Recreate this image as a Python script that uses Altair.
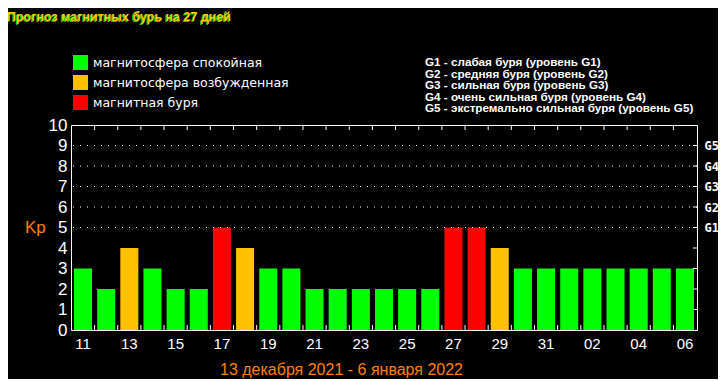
import altair as alt
import pandas as pd

# ---- data ----
days = ["11", "12", "13", "14", "15", "16", "17", "18", "19", "20", "21", "22", "23", "24",
        "25", "26", "27", "28", "29", "30", "31", "01", "02", "03", "04", "05", "06"]
kp = [3, 2, 4, 3, 2, 2, 5, 4, 3, 3, 2, 2, 2, 2, 2, 2, 5, 5, 4, 3, 3, 3, 3, 3, 3, 3, 3]
categories = ["магнитосфера спокойная", "магнитосфера возбужденная", "магнитная буря"]
cat_colors = ["#00ff00", "#ffc000", "#ff0000"]
grid_levels = [5, 6, 7, 8, 9]
right_ticks = [1, 2, 3, 4, 5, 6, 7, 8, 9]
g_lines = [
    "G1 - слабая буря (уровень G1)",
    "G2 - средняя буря (уровень G2)",
    "G3 - сильная буря (уровень G3)",
    "G4 - очень сильная буря (уровень G4)",
    "G5 - экстремально сильная буря (уровень G5)",
]
title_text = "Прогноз магнитных бурь на 27 дней"
subtitle_text = "13 декабря 2021 - 6 января 2022"

W, H = 626, 205
P_INNER, P_OUTER = 0.222, 0.13
step = W / (len(days) - P_INNER + 2 * P_OUTER)
gap = step * P_INNER


def cat_of(v):
    if v >= 5:
        return categories[2]
    if v == 4:
        return categories[1]
    return categories[0]


bars_df = pd.DataFrame({"day": days, "kp": kp, "cat": [cat_of(v) for v in kp]})
grid_df = pd.DataFrame({"lvl": grid_levels})
rt_df = pd.DataFrame({"lvl": right_ticks})
bnd_df = pd.DataFrame({"day": days[1:]})

xscale = alt.Scale(domain=days, paddingInner=P_INNER, paddingOuter=P_OUTER)
yscale = alt.Scale(domain=[0, 10], nice=False)

bars = alt.Chart(bars_df).mark_bar().encode(
    x=alt.X("day:O", sort=days, scale=xscale, title=None,
            axis=alt.Axis(values=days[::2], labelAngle=0, ticks=False, domain=False,
                          labelColor="white", labelFont="Liberation Sans", labelFontSize=15,
                          labelPadding=6)),
    y=alt.Y("kp:Q", scale=yscale, title=None,
            axis=alt.Axis(orient="left", values=list(range(11)), ticks=False, domain=False,
                          grid=False, labelColor="white", labelFont="Liberation Sans",
                          labelFontSize=17, labelPadding=4)),
    color=alt.Color("cat:N", scale=alt.Scale(domain=categories, range=cat_colors),
                    legend=alt.Legend(orient="none", legendX=2, legendY=-70, title=None,
                                      symbolType="square", symbolSize=225, symbolStrokeWidth=0,
                                      labelColor="white", labelFont="DejaVu Sans",
                                      labelFontSize=12.5, labelOffset=5, rowPadding=5,
                                      labelLimit=0, padding=0, symbolOpacity=1)),
)

grid = alt.Chart(grid_df).mark_rule(color="white", strokeDash=[1, 6], strokeWidth=1).encode(
    x=alt.value(2), x2=alt.value(W),
    y=alt.Y("lvl:Q", scale=yscale, title=None,
            axis=alt.Axis(orient="right", values=grid_levels, labelExpr="'G' + (datum.value - 4)",
                          ticks=False, domain=False, grid=False, labelColor="white",
                          labelFont="DejaVu Sans Mono", labelFontWeight="bold",
                          labelFontSize=12, labelPadding=7)),
)

rticks = alt.Chart(rt_df).mark_rule(color="white").encode(
    x=alt.value(W - 4), x2=alt.value(W),
    y=alt.Y("lvl:Q", scale=yscale, axis=None),
)

top_ticks = alt.Chart(bnd_df).mark_rule(color="white", xOffset=-gap / 2).encode(
    x=alt.X("day:O", sort=days, scale=xscale, bandPosition=0, title=None),
    y=alt.value(0), y2=alt.value(5),
)
bot_ticks = alt.Chart(bnd_df).mark_rule(color="white", xOffset=-gap / 2).encode(
    x=alt.X("day:O", sort=days, scale=xscale, bandPosition=0, title=None),
    y=alt.value(H - 5), y2=alt.value(H),
)

title_shadow = alt.Chart().mark_text(align="left", baseline="middle", font="Liberation Sans",
                                     fontWeight="bold", fontSize=12.5, color="#22cc00").encode(
    x=alt.value(-65), y=alt.value(-107), text=alt.value(title_text))
title_main = alt.Chart().mark_text(align="left", baseline="middle", font="Liberation Sans",
                                   fontWeight="bold", fontSize=12.5, color="#ffcc00").encode(
    x=alt.value(-64), y=alt.value(-108), text=alt.value(title_text))

g_text = alt.Chart().mark_text(align="left", baseline="middle", font="Liberation Sans",
                               fontWeight="bold", fontSize=11.7, color="white",
                               lineHeight=11.6).encode(
    x=alt.value(354), y=alt.value(-63), text=alt.value(g_lines))

kp_text = alt.Chart().mark_text(align="left", baseline="middle", font="Liberation Sans",
                                fontSize=17, color="#ff8000").encode(
    x=alt.value(-46), y=alt.value(103), text=alt.value("Kp"))

sub_text = alt.Chart().mark_text(align="left", baseline="alphabetic", font="Liberation Sans",
                                 fontSize=16, color="#ff8000").encode(
    x=alt.value(149), y=alt.value(250), text=alt.value(subtitle_text))

chart = alt.layer(
    bars, grid, rticks, top_ticks, bot_ticks, title_shadow, title_main, g_text, kp_text, sub_text
).resolve_scale(y="independent").properties(
    width=W, height=H,
    autosize=alt.AutoSizeParams(type="none"),
    padding={"left": 63, "top": 117, "right": 21, "bottom": 49},
    background="black",
).configure_view(stroke="white", strokeWidth=1)

chart.save("out.html", embed_options={"renderer": "svg", "actions": False})
